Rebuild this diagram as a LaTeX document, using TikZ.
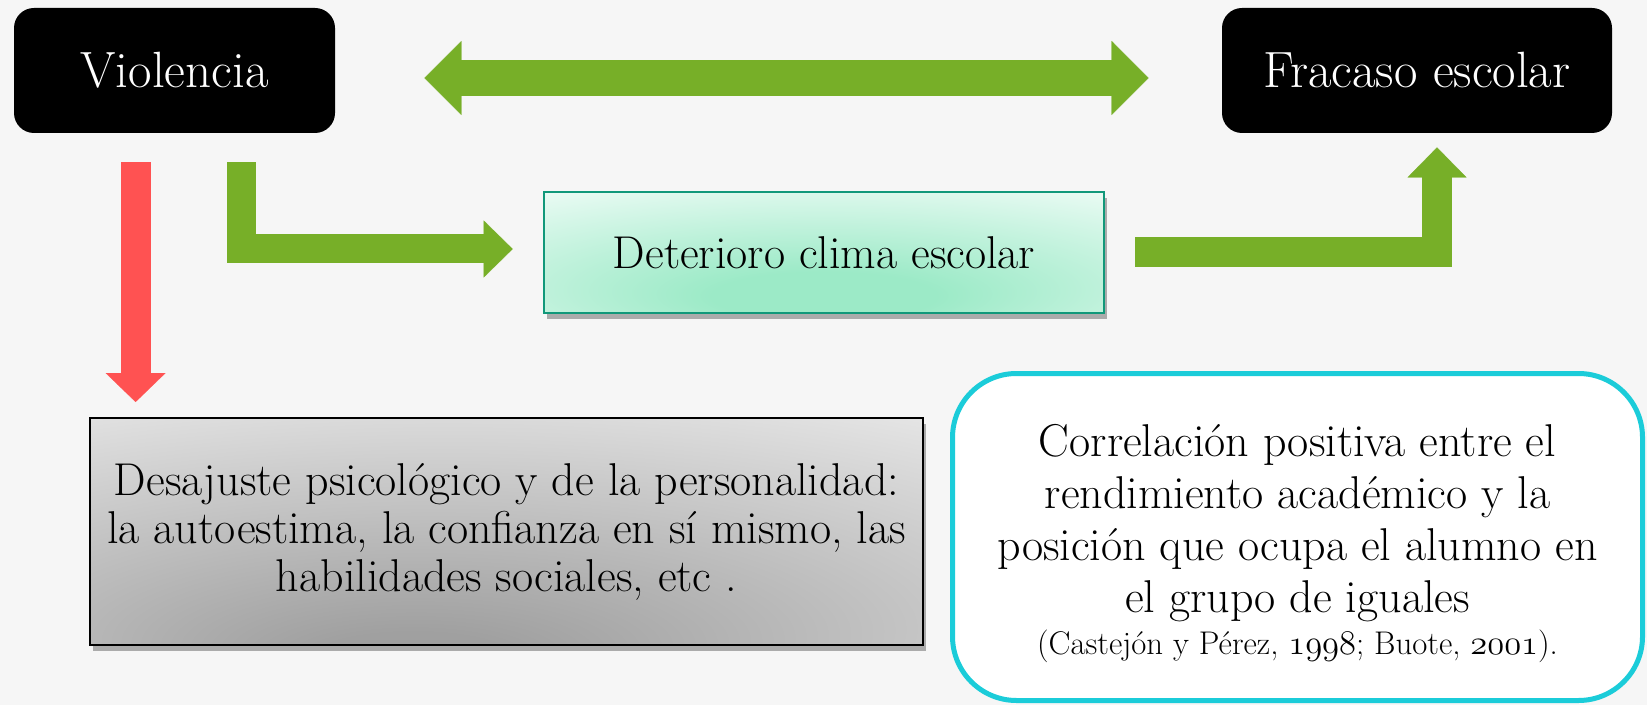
\documentclass[tikz,border=0pt]{standalone}
\usepackage{fontspec}
\usetikzlibrary{arrows.meta,shadows,calc}
\definecolor{bg}{HTML}{F6F6F6}
\definecolor{agreen}{HTML}{77AF28}
\definecolor{ared}{HTML}{FF5252}
\definecolor{acyan}{HTML}{1BCCD9}
\definecolor{tealb}{HTML}{11987A}
\definecolor{mintc}{HTML}{9CEAC7}
\definecolor{mintw}{HTML}{F3FDF9}
\definecolor{grayc}{HTML}{A0A0A0}
\definecolor{grayw}{HTML}{F6F6F6}
\pgfdeclareradialshading{detshade}{\pgfpoint{0bp}{-20bp}}{color(0bp)=(mintc); color(10bp)=(mintc); color(48bp)=(mintw); color(100bp)=(mintw)}
\pgfdeclareradialshading{desshade}{\pgfpoint{-6bp}{-30bp}}{color(0bp)=(grayc); color(6bp)=(grayc); color(60bp)=(grayw); color(100bp)=(grayw)}
\newcommand\osfnum[1]{{\usefont{OML}{lmm}{m}{it}#1}}
\begin{document}
\begin{tikzpicture}[x=0.5pt,y=-0.5pt,
  blk/.style={fill=black, text=white, rounded corners=10pt, minimum height=62.5pt, inner sep=0pt, font=\fontsize{25.5}{30}\selectfont},
  barrow/.style={line join=miter, line cap=butt},
  shad/.style={drop shadow={opacity=0.3, shadow xshift=1.5pt, shadow yshift=-3pt, fill=black}},
]
\useasboundingbox[fill=bg] (0,0) rectangle (1647,705);

% boxes
\node[blk, minimum width=160.5pt] (vio) at (174.5,70.5) {Violencia};
\node[blk, minimum width=195pt] (fra) at (1417,70.5) {Fracaso escolar};
\node[draw=tealb, line width=1.3pt, shading=detshade, shad, minimum width=280pt, minimum height=60.5pt, inner sep=0pt, font=\fontsize{23}{27}\selectfont] (det) at (824,252.5) {Deterioro clima escolar};
\node[draw=black, line width=1pt, shading=desshade, shad, minimum width=416.5pt, minimum height=113.5pt, inner sep=0pt, align=center, font=\fontsize{23}{24}\selectfont] (des) at (506.5,531.5) {Desajuste psicológico y de la personalidad:\\la autoestima, la confianza en sí mismo, las\\habilidades sociales, etc .};
\node[draw=acyan, line width=2.5pt, fill=white, rounded corners=32pt, minimum width=345pt, minimum height=163.5pt, inner sep=0pt] (cor) at (1297.5,537) {};
\node[align=center, inner sep=0pt, font=\fontsize{23}{26}\selectfont] (cortxt) at ($(cor.center)+(0,7)$) {Correlación positiva entre el\\rendimiento académico y la\\posición que ocupa el alumno en\\el grupo de iguales\\[-5pt]{\fontsize{16.4}{19}\selectfont (Castejón y Pérez, \osfnum{1998}; Buote, \osfnum{2001}).}};

% connector end points
\coordinate (dl) at ($(vio.east)+(89,7.5)$);
\coordinate (dr) at ($(fra.west)+(-73,7.5)$);
\coordinate (rs) at ($(vio.south west)+(122,29)$);
\coordinate (re) at ($(rs |- des.north)+(0,-15)$);
\coordinate (g1s) at ($(vio.south west)+(227.5,29)$);
\coordinate (g1e) at ($(det.west)+(-30,-3.5)$);
\coordinate (g2s) at ($(det.east)+(30,0)$);
\coordinate (g2e) at ($(fra.south)+(20,14)$);

% block arrows
\draw[barrow, draw=agreen, line width=18pt,
  {Triangle[length=18.5pt,width=37pt,line width=0.1pt]}-{Triangle[length=18.5pt,width=37pt,line width=0.1pt]}] (dl) -- (dr);
\draw[barrow, draw=ared, line width=15pt,
  -{Triangle[length=14.5pt,width=30pt,line width=0.1pt]}] (rs) -- (re);
\draw[barrow, draw=agreen, line width=14.5pt,
  -{Triangle[length=14.5pt,width=28.5pt,line width=0.1pt]}] (g1s) |- (g1e);
\draw[barrow, draw=agreen, line width=15pt,
  -{Triangle[length=15pt,width=29.5pt,line width=0.1pt]}] (g2s) -| (g2e);
\end{tikzpicture}
\end{document}
